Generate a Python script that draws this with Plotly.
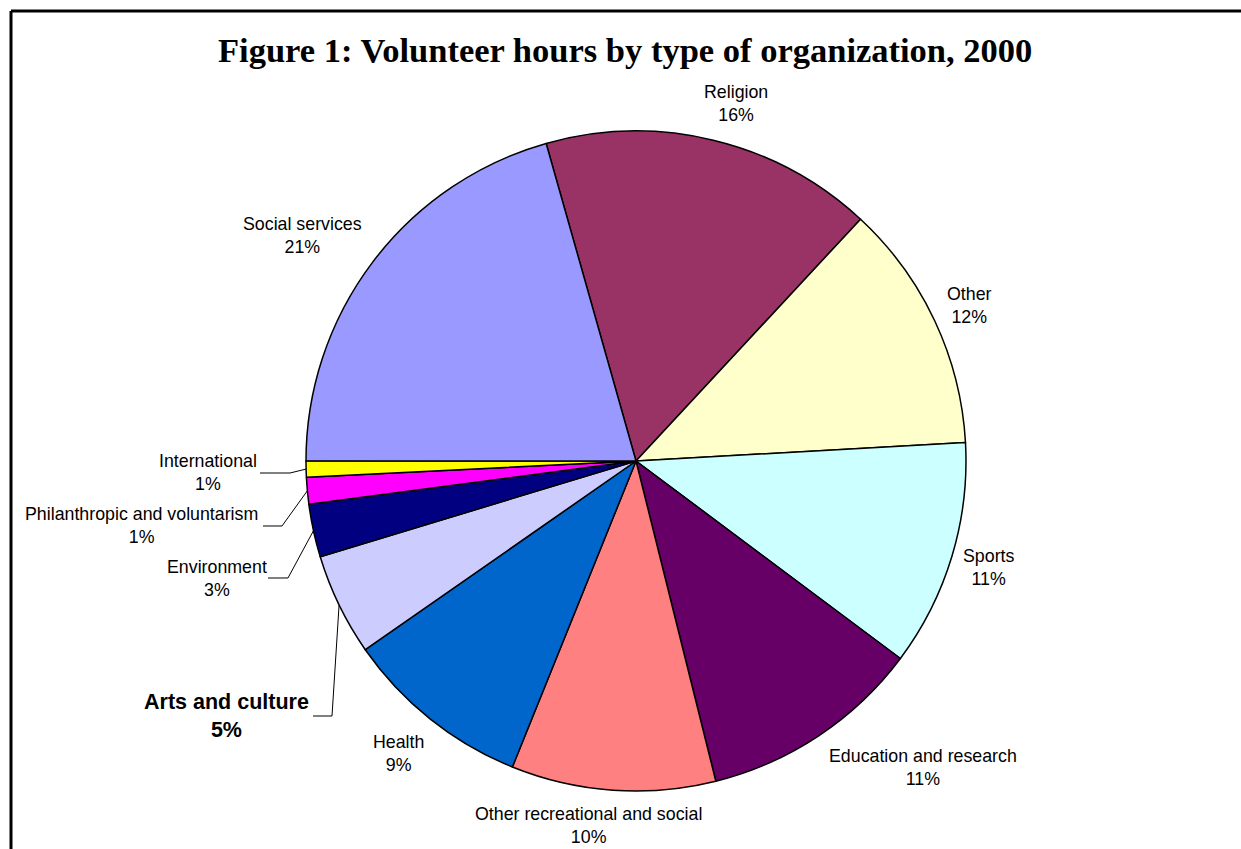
import math
import plotly.graph_objects as go

# ---- data ----
categories = ["Religion", "Other", "Sports", "Education and research",
              "Other recreational and social", "Health", "Arts and culture",
              "Environment", "Philanthropic and voluntarism", "International",
              "Social services"]
values = [16.3, 12.2, 11.1, 10.9, 10.0, 9.2, 5.0, 2.6, 1.3, 0.8, 20.6]
colors = ["#993366", "#FFFFCC", "#CCFFFF", "#660066", "#FF8080", "#0066CC",
          "#CCCCFF", "#000080", "#FF00FF", "#FFFF00", "#9999FF"]
title_text = "Figure 1: Volunteer hours by type of organization, 2000"

# ---- layout constants (pixels) ----
W, H = 1241, 849
CX, CY, R = 636, 461, 330
ROTATION = -15.8

def px(x, y):
    return x / W, 1 - y / H

label_pos = {
    "Religion": (736, 104),
    "Other": (969, 305),
    "Sports": (989, 567),
    "Education and research": (923, 767),
    "Other recreational and social": (588, 825),
    "Health": (398, 753),
    "Social services": (302, 236),
    "International": (208, 473),
    "Philanthropic and voluntarism": (141, 525),
    "Environment": (217, 578),
    "Arts and culture": (226, 716),
}
leaders = {
    "International": [(260, 473), (290, 473)],
    "Philanthropic and voluntarism": [(263, 526), (282, 526)],
    "Environment": [(268, 578), (288, 578)],
    "Arts and culture": [(313, 716), (332, 716)],
}

total = sum(values)
pct = [f"{int(v / total * 100 + 0.5)}%" for v in values]

fig = go.Figure()
x0, y1 = px(CX - R, CY - R)
x1, y0 = px(CX + R, CY + R)
fig.add_trace(go.Pie(
    labels=categories, values=values, sort=False, direction="clockwise",
    rotation=ROTATION, textinfo="none", hoverinfo="label+percent",
    marker=dict(colors=colors, line=dict(color="black", width=1.5)),
    domain=dict(x=[x0, x1], y=[y0, y1]), showlegend=False,
))

annotations = []
shapes = []
# slice mid angles from data
cum = 0.0
mid_angle = {}
for c, v in zip(categories, values):
    mid_angle[c] = ROTATION + (cum + v / 2) / total * 360
    cum += v

for c, p in zip(categories, pct):
    lx, ly = label_pos[c]
    ax, ay = px(lx, ly)
    bold = c == "Arts and culture"
    txt = f"<b>{c}<br>{p}</b>" if bold else f"{c}<br>{p}"
    annotations.append(dict(
        x=ax, y=ay, xref="paper", yref="paper", text=txt, showarrow=False,
        xanchor="center", yanchor="middle", align="center",
        font=dict(family="Liberation Sans, Arial", size=21.5 if bold else 17.8, color="black"),
    ))
    if c in leaders:
        th = math.radians(mid_angle[c])
        ex, ey = CX + R * math.sin(th), CY - R * math.cos(th)
        pts = leaders[c] + [(ex, ey)]
        path = "M " + " L ".join(f"{px(x, y)[0]:.5f},{px(x, y)[1]:.5f}" for x, y in pts)
        shapes.append(dict(type="path", path=path, xref="paper", yref="paper",
                           line=dict(color="black", width=1)))

tx, ty = px(625, 50)
annotations.append(dict(
    x=tx, y=ty, xref="paper", yref="paper", text=f"<b>{title_text}</b>",
    showarrow=False, xanchor="center", yanchor="middle",
    font=dict(family="Liberation Serif, Times New Roman, serif", size=34.5, color="black"),
))

# border
bx, by = px(11, 11)
shapes.append(dict(type="line", xref="paper", yref="paper", x0=bx, y0=by, x1=1, y1=by,
                   line=dict(color="black", width=3)))
shapes.append(dict(type="line", xref="paper", yref="paper", x0=bx, y0=by, x1=bx, y1=0,
                   line=dict(color="black", width=3)))

fig.update_layout(
    width=W, height=H, margin=dict(l=0, r=0, t=0, b=0),
    paper_bgcolor="white", plot_bgcolor="white",
    annotations=annotations, shapes=shapes,
)
fig.write_html("out.html")
